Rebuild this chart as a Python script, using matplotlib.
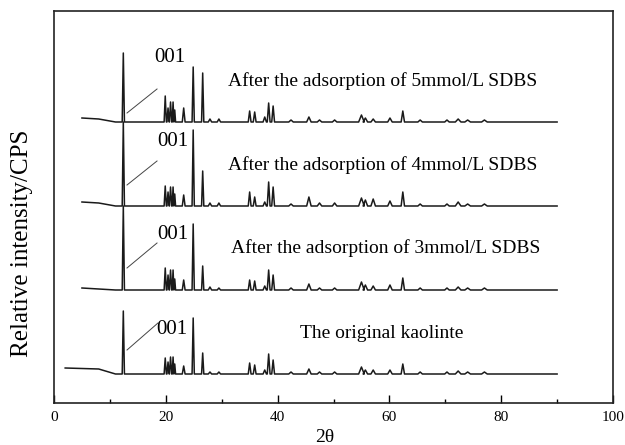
import numpy as np
import matplotlib
matplotlib.use("Agg")
import matplotlib.pyplot as plt

plt.rcParams['font.family'] = ['Liberation Serif', 'DejaVu Serif']

# peak positions (2theta) and widths shared by all four patterns
peak_pos = [12.4, 19.9, 20.4, 20.85, 21.3, 21.6, 23.2, 24.9, 26.6, 27.9, 29.5,
            35.0, 35.9, 37.7, 38.4, 39.2, 42.4, 45.6, 47.5, 50.2, 55.0, 55.7,
            57.1, 60.1, 62.4, 65.5, 70.3, 72.3, 74.0, 77.0]
peak_w = [0.2, 0.2, 0.2, 0.2, 0.15, 0.15, 0.25, 0.2, 0.2, 0.3, 0.3,
          0.25, 0.25, 0.3, 0.25, 0.25, 0.4, 0.4, 0.4, 0.4, 0.5, 0.4,
          0.4, 0.4, 0.3, 0.4, 0.4, 0.5, 0.5, 0.5]

# peak heights above baseline
h_5mmol = [69, 26, 14, 20, 20, 12, 14, 55, 49, 3, 3,
           11, 10, 5, 19, 16, 2, 5, 2, 2, 7, 4,
           3, 4, 11, 2, 2, 3, 2, 2]
h_4mmol = [84, 20, 14, 19, 19, 12, 11, 76, 35, 3, 3,
           14, 9, 4, 24, 19, 2, 9, 3, 3, 8, 6,
           7, 5, 14, 2, 2, 4, 2, 2]
h_3mmol = [84, 22, 15, 20, 20, 11, 10, 66, 24, 3, 2,
           10, 9, 4, 20, 15, 2, 6, 2, 2, 8, 5,
           4, 5, 12, 2, 2, 3, 2, 2]
h_orig = [63, 16, 12, 17, 17, 10, 8, 56, 21, 2, 2,
          11, 9, 4, 20, 14, 2, 5, 2, 2, 7, 4,
          4, 4, 10, 2, 2, 3, 2, 2]

# scan start/end and low-angle baseline rise
start_5mmol, start_4mmol, start_3mmol, start_orig = 5, 5, 5, 2
rise_5mmol, rise_4mmol, rise_3mmol, rise_orig = 4, 4, 2, 6
end_angle = 90

offsets = [281, 197, 113, 29]
labels = ['After the adsorption of 5mmol/L SDBS',
          'After the adsorption of 4mmol/L SDBS',
          'After the adsorption of 3mmol/L SDBS',
          'The original kaolinte']


def trace(start, rise, heights):
    xs = [start, 8, 11]
    ys = [rise, rise - 1, 0]
    for p, w, h in zip(peak_pos, peak_w, heights):
        xs += [p - w, p, p + w]
        ys += [0, h, 0]
    xs.append(end_angle)
    ys.append(0)
    return np.array(xs), np.array(ys)


fig = plt.figure(figsize=(6.25, 4.45), dpi=100)
ax = fig.add_axes([54 / 625, 42 / 445, 559 / 625, 392 / 445])

series = [(start_5mmol, rise_5mmol, h_5mmol),
          (start_4mmol, rise_4mmol, h_4mmol),
          (start_3mmol, rise_3mmol, h_3mmol),
          (start_orig, rise_orig, h_orig)]
for (s, r, h), off in zip(series, offsets):
    x, y = trace(s, r, h)
    ax.plot(x, y + off, color='#1a1a1a', lw=1.1)

# 001 annotations
ann_text = [(20.75, 346), (21.3, 262), (21.3, 169), (21.1, 73)]
ann_line = [((13.06, 290), (18.43, 314)), ((13.06, 218), (18.43, 242)),
            ((13.06, 135), (18.43, 160)), ((13.06, 53), (18.6, 80))]
for (tx, ty), (p0, p1) in zip(ann_text, ann_line):
    ax.text(tx, ty, '001', fontsize=15, ha='center', va='center')
    ax.plot([p0[0], p1[0]], [p0[1], p1[1]], color='#444444', lw=0.7)

lab_pos = [(31.1, 322), (31.1, 238), (31.6, 155), (44.0, 70)]
for (lx, ly), t in zip(lab_pos, labels):
    ax.text(lx, ly, t, fontsize=14, ha='left', va='center')

ax.set_xlim(0, 100)
ax.set_ylim(0, 392)
ax.set_xticks(np.arange(0, 101, 20))
ax.set_xticks(np.arange(10, 100, 20), minor=True)
ax.set_yticks([])
ax.tick_params(axis='x', direction='in', length=6, width=1, labelsize=11, pad=6)
ax.tick_params(axis='x', which='minor', direction='in', length=3, width=1)
for sp in ax.spines.values():
    sp.set_linewidth(1.2)
    sp.set_color('#222222')

fig.text(325 / 625, 1 - 437 / 445, '2θ', fontsize=14, ha='center', va='center')
fig.text(22 / 625, 1 - 243 / 445, 'Relative intensity/CPS', fontsize=18,
         rotation=90, ha='center', va='center')

fig.savefig('out.png', dpi=100)
